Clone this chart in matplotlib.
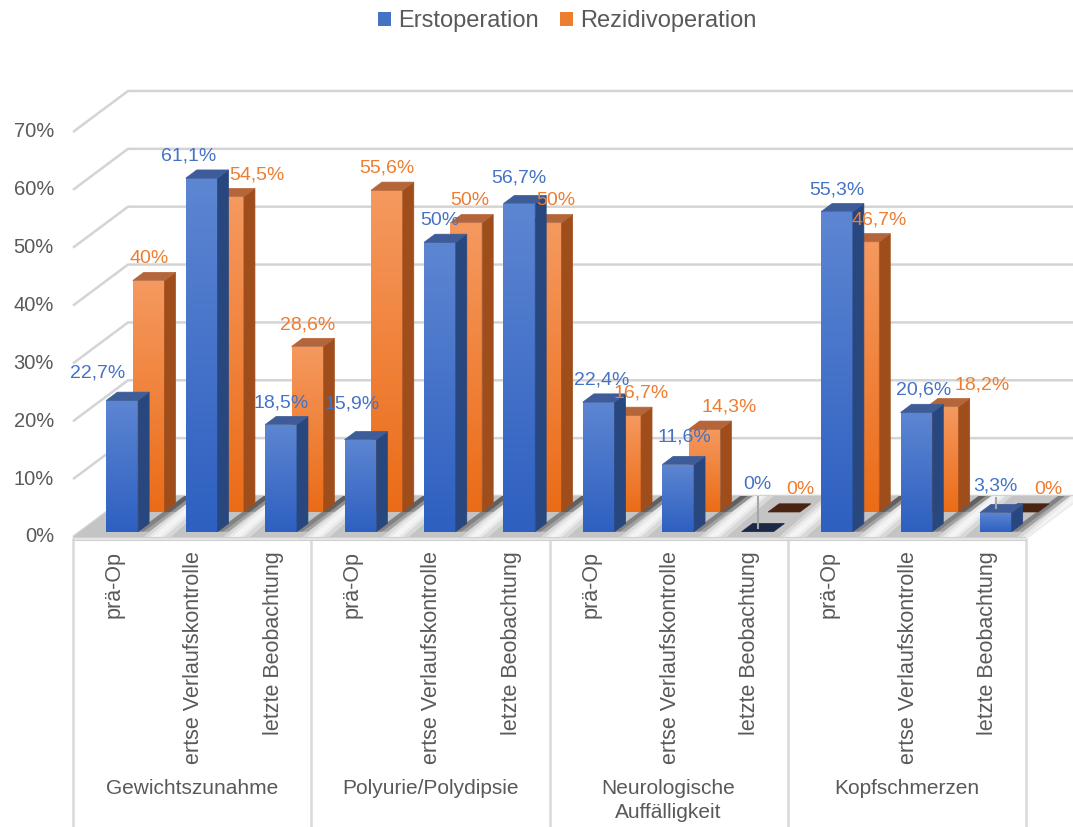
import numpy as np
import matplotlib
matplotlib.use('Agg')
import matplotlib.pyplot as plt
from matplotlib.patches import Polygon, Patch
from matplotlib.colors import to_rgb

# ---------------- Daten ----------------
kategorien = ['prä-Op', 'ertse Verlaufskontrolle', 'letzte Beobachtung'] * 4
gruppen = ['Gewichtszunahme', 'Polyurie/Polydipsie', 'Neurologische\nAuffälligkeit', 'Kopfschmerzen']
erstop = [22.7, 61.1, 18.5, 15.9, 50, 56.7, 22.4, 11.6, 0, 55.3, 20.6, 3.3]
rezidiv = [40, 54.5, 28.6, 55.6, 50, 50, 16.7, 14.3, 0, 46.7, 18.2, 0]
y_ticks = [0, 10, 20, 30, 40, 50, 60, 70]

# Verschiebung der Datenbeschriftungen (Pixel), wie Excel sie gesetzt hat
lab_dx_blau = [-25, -13, 0, -8, 0, 0, 3, 6, 0, 0, 7, 0]
lab_dy_blau = [-5, 0, 0, -14, 0, -4, 0, -6, -25, 0, 0, -5]
lab_dx_orange = [0, 29, 0, 0, 3, 10, 16, 25, 16, 16, 39, 26]
fuehrung_blau = [8, 11]  # Bars mit Führungslinie

# ---------------- Geometrie (Pixel des Bildes) ----------------
W, H = 1073, 827
X0, Y0 = 73, 537
CAT = (1026 - 73) / 12.0
VPX = 5.786
DX = 55 / CAT   # Tiefe in x (Kategorie-Einheiten)
DV = 41 / VPX   # Tiefe in y (Prozent-Einheiten)

def px2x(px):
    return (px - X0) / CAT

def py2v(py):
    return (Y0 - py) / VPX

def P(x, v, z):
    return (x + z * DX, v + z * DV)

plt.rcParams['font.family'] = ['Liberation Sans', 'DejaVu Sans']
grau = '#595959'

fig = plt.figure(figsize=(W / 100, H / 100), dpi=100)
ax = fig.add_axes([0, 0, 1, 1])
ax.axis('off')

# ---------------- Gitternetz (linke Wand + Rückwand) ----------------
for v in y_ticks:
    pts = [P(0, v, 0), P(0, v, 1), (px2x(W + 5), v + DV)]
    ax.plot([p[0] for p in pts], [p[1] for p in pts], color='#d4d4d4', lw=1.8, zorder=1,
            solid_capstyle='butt')
    ax.text(px2x(54), v, f'{v}%', ha='right', va='center', fontsize=14.5, color=grau)

# ---------------- Boden ----------------
boden = [P(0, 0, 0), P(12, 0, 0), P(12, 0, 1), P(0, 0, 1)]
ax.add_patch(Polygon(boden, closed=True, facecolor='#c4c4c4', edgecolor='none', zorder=2))
# Bodenkante vorne
kante = [P(0, 0, 0), P(12, 0, 0), P(12, -0.45, 0), P(0, -0.45, 0)]
ax.add_patch(Polygon(kante, closed=True, facecolor='#e6e6e6', edgecolor='#d0d0d0', lw=0.8, zorder=4))
kante_r = [P(12, 0, 0), P(12, 0, 1), P(12, -0.45, 1), P(12, -0.45, 0)]
ax.add_patch(Polygon(kante_r, closed=True, facecolor='#ececec', edgecolor='none', zorder=4))

breite = 0.40
versatz = 0.03
reihen = [
    # werte, z vorne, z hinten, farbe oben/unten vorne, seite, deckel, null-deckel, label
    (rezidiv, 0.61, 0.81, '#F5995F', '#EB6C17', '#A04D1C', '#B5653A', '#4A2412', '#ED7D31'),
    (erstop, 0.13, 0.33, '#5D86D2', '#2E60C1', '#29477F', '#3E5C98', '#1B2846', '#4472C4'),
]

# Lichtstreifen und Schatten auf dem Boden
for i in range(12):
    xr = i + 0.5 + versatz + breite / 2
    for w0, w1, a in [(0.16, 0.50, 0.35), (0.22, 0.42, 0.45), (0.27, 0.37, 0.5)]:
        st = [P(xr + w0, 0, 0), P(xr + w1, 0, 0), P(xr + w1 - 0.1, 0, 1), P(xr + w0 - 0.1, 0, 1)]
        ax.add_patch(Polygon(st, closed=True, facecolor='white', alpha=a, edgecolor='none', zorder=3))
for werte, z0, z1, *_ in reihen:
    for i, v in enumerate(werte):
        if v <= 0:
            continue
        x1 = i + 0.5 + versatz + breite / 2
        for w, a in [(0.14, 0.25), (0.07, 0.3)]:
            sh = [P(x1 - 0.02, 0, z0), P(x1 + w, 0, z0), P(x1 + w, 0, 1.0), P(x1 - 0.02, 0, 1.0)]
            ax.add_patch(Polygon(sh, closed=True, facecolor='#3c3c3c', alpha=a,
                                 edgecolor='none', zorder=3))

def gradient_flaeche(xy, c_oben, c_unten, zo):
    poly = Polygon(xy, closed=True, facecolor='none', edgecolor='none', zorder=zo)
    ax.add_patch(poly)
    xs = [p[0] for p in xy]
    vs = [p[1] for p in xy]
    t = np.linspace(0, 1, 64)[:, None, None]
    farbe = (1 - t) * np.array(to_rgb(c_oben)) + t * np.array(to_rgb(c_unten))
    im = ax.imshow(farbe, extent=[min(xs), max(xs), min(vs), max(vs)], aspect='auto',
                   origin='upper', interpolation='bilinear', zorder=zo)
    im.set_clip_path(poly)

zo = 10
for r, (werte, z0, z1, c_o, c_u, c_s, c_d, c_null, c_lab) in enumerate(reihen):
    for i, v in enumerate(werte):
        xm = i + 0.5 + versatz
        xa, xb = xm - breite / 2, xm + breite / 2
        if v > 0:
            vorne = [P(xa, 0, z0), P(xb, 0, z0), P(xb, v, z0), P(xa, v, z0)]
            gradient_flaeche(vorne, c_o, c_u, zo)
            seite = [P(xb, 0, z0), P(xb, 0, z1), P(xb, v, z1), P(xb, v, z0)]
            ax.add_patch(Polygon(seite, closed=True, facecolor=c_s, edgecolor=c_s, lw=0.5, zorder=zo))
            deckel_farbe = c_d
        else:
            deckel_farbe = c_null
        deckel = [P(xa, v, z0), P(xb, v, z0), P(xb, v, z1), P(xa, v, z1)]
        ax.add_patch(Polygon(deckel, closed=True, facecolor=deckel_farbe, edgecolor=deckel_farbe,
                             lw=0.5, zorder=zo))
        zo += 1

        # Datenbeschriftung
        txt = f'{v:g}'.replace('.', ',') + '%'
        bx, bv = P(xm, v, z0)
        if r == 0:
            dx, dy = lab_dx_orange[i], 0
        else:
            dx, dy = lab_dx_blau[i], lab_dy_blau[i]
        lx = bx + dx / CAT
        lv = bv + (22 - dy) / VPX
        ax.text(lx, lv, txt, ha='center', va='center', fontsize=14, color=c_lab, zorder=50)
        if r == 1 and i in fuehrung_blau:
            tx, tv = P(xm, v, (z0 + z1) / 2)
            ax.plot([lx, lx], [lv - 12 / VPX, tv], color='#a6a6a6', lw=1.5, zorder=zo + 1)

# ---------------- Kategorienachse ----------------
for g in range(5):
    ax.plot([3 * g, 3 * g], [py2v(539), py2v(H + 2)], color='#d9d9d9', lw=1.8, zorder=2)
for i, k in enumerate(kategorien):
    ax.text(i + 0.52, py2v(551), k, rotation=90, ha='center', va='top', fontsize=15.5, color=grau)
for g, name in enumerate(gruppen):
    ax.text(3 * g + 1.5, py2v(779), name, ha='center', va='top', fontsize=15, color=grau,
            linespacing=1.3)

ax.set_xlim(px2x(0), px2x(W))
ax.set_ylim(py2v(H), py2v(0))

# ---------------- Legende ----------------
handles = [Patch(facecolor='#4472C4'), Patch(facecolor='#ED7D31')]
fig.legend(handles, ['Erstoperation', 'Rezidivoperation'], loc='center',
           bbox_to_anchor=(567 / W, 1 - 21 / H), ncol=2, frameon=False, fontsize=17,
           handlelength=0.55, handleheight=0.55, handletextpad=0.3, columnspacing=0.9,
           labelcolor=grau)

fig.savefig('out.png', dpi=100)
